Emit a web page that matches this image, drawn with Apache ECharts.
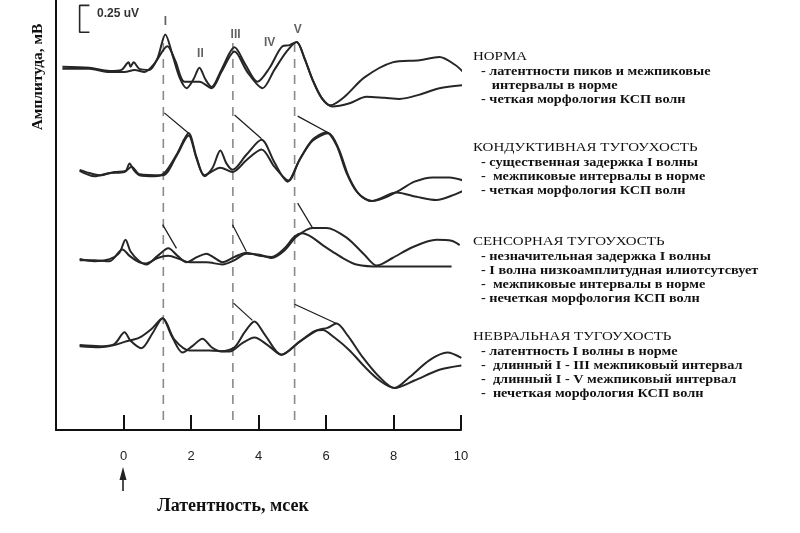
<!DOCTYPE html>
<html><head><meta charset="utf-8">
<script src="https://cdn.jsdelivr.net/npm/echarts@6/dist/echarts.min.js"></script>
<style>html,body{margin:0;background:#fff}#c{width:800px;height:533px}</style>
</head><body><div id="c"></div>
<script>
// ---- data: latency (ms), amplitude relative to row baseline (uV) ----
const xTicks = [0, 2, 4, 6, 8, 10];
const rowBase = [3.37, 2.38, 1.59, 0.79];   // baseline of each row (uV)
const peakLatency = [1.18, 3.24, 5.07];     // dashed reference lines I, III, V
const peakNames = ['I', 'II', 'III', 'IV', 'V'];
const peakLabelPos = [[1.24, 3.80], [2.28, 3.50], [3.32, 3.68], [4.33, 3.60], [5.16, 3.72]];
const scaleBar = 0.25;

const normA = [[-1.81,0.01],[-1.01,0],[-0.41,-0.03],[-0.06,-0.02],[0.15,0.05],[0.21,0.01],[0.30,0.05],[0.47,-0.01],[0.77,-0.02],[1.01,0.09],[1.24,0.31],[1.45,0.12],[1.66,-0.09],[1.87,-0.19],[2.07,-0.11],[2.25,0],[2.43,-0.11],[2.61,-0.18],[2.90,-0.02],[3.29,0.19],[3.61,0.03],[3.97,-0.13],[4.33,0.00],[4.71,0.20],[4.92,0.21],[5.13,0.24],[5.36,0.09],[5.60,-0.11],[5.87,-0.28],[6.13,-0.35],[6.55,-0.27],[7.14,-0.09],[7.97,0.05],[8.77,0.07],[9.36,0.10],[9.81,0.03],[10.10,-0.05]];
const normB = [[-1.81,-0.01],[-1.01,-0.01],[-0.41,-0.04],[0.03,-0.04],[0.33,-0.02],[0.62,-0.04],[0.92,0.04],[1.30,0.20],[1.54,0.06],[1.81,-0.13],[2.25,-0.13],[2.61,-0.19],[2.90,-0.04],[3.29,0.15],[3.67,-0.04],[4.12,-0.19],[4.47,-0.02],[4.83,0.15],[5.13,0.24],[5.36,0.09],[5.60,-0.11],[5.87,-0.28],[6.19,-0.36],[6.70,-0.33],[7.20,-0.27],[7.73,-0.28],[8.18,-0.29],[8.77,-0.25],[9.36,-0.19],[10.10,-0.16]];

const condA = [[-1.30,0.04],[-1.01,0.01],[-0.71,-0.01],[-0.27,0.02],[0.06,0.03],[0.18,0.10],[0.30,0.04],[0.47,-0.01],[0.92,-0.02],[1.21,0.01],[1.57,0.18],[1.93,0.38],[2.16,0.16],[2.40,-0.02],[2.64,0.06],[2.87,0.22],[3.05,0.10],[3.23,0.04],[3.64,0.18],[4.09,0.32],[4.47,0.11],[4.86,-0.07],[5.21,0.13],[5.60,0.32],[6.01,0.39],[6.31,0.27],[6.61,0.01],[6.93,-0.17],[7.35,-0.25],[7.73,-0.22],[8.18,-0.15],[8.62,-0.07],[9.16,-0.03],[9.66,-0.03],[10.16,-0.07]];
const condB = [[-1.30,0.03],[-0.86,-0.02],[-0.41,0.01],[0.03,0.02],[0.24,0.07],[0.47,0],[1.16,-0.01],[1.57,0.17],[1.93,0.36],[2.16,0.15],[2.40,-0.01],[2.87,0.06],[3.23,0.02],[3.64,0.13],[4.09,0.23],[4.47,0.07],[4.89,-0.06],[5.21,0.13],[5.60,0.31],[6.07,0.38],[6.37,0.24],[6.67,-0.02],[6.99,-0.19],[7.35,-0.25],[8.09,-0.17],[8.68,-0.21],[9.27,-0.24],[9.81,-0.19],[10.16,-0.14]];

const sensA = [[-1.30,0],[-0.86,-0.02],[-0.41,0],[-0.12,0.06],[0.06,0.18],[0.21,0.07],[0.47,-0.02],[0.68,-0.05],[1.01,0.03],[1.33,0.10],[1.60,0.03],[1.87,-0.03],[2.19,0.02],[2.46,0.05],[2.70,0.01],[2.93,-0.03],[3.29,0.02],[3.64,0.06],[4.03,0.03],[4.39,0.02],[4.77,0.10],[5.07,0.21],[5.30,0.24],[5.60,0.20],[5.90,0.13],[6.19,0.07],[6.55,0],[6.90,-0.05],[7.59,-0.07],[8.47,-0.07],[9.72,-0.07]];
const sensB = [[-1.30,-0.01],[-0.86,-0.01],[-0.41,-0.02],[-0.03,0.09],[0.18,0.03],[0.47,-0.03],[0.68,-0.04],[1.01,0.01],[1.33,0.03],[1.66,0],[1.96,-0.03],[2.46,-0.03],[2.93,-0.05],[3.29,-0.01],[3.64,0.05],[4.03,0.04],[4.39,0.01],[4.77,0.08],[5.13,0.21],[5.60,0.29],[6.01,0.29],[6.61,0.20],[7.14,0.04],[7.50,-0.06],[7.97,0.01],[8.56,0.11],[9.27,0.18],[9.72,0.17],[9.96,0.13]];

const neurA = [[-1.30,0],[-0.71,-0.01],[-0.27,0.01],[0.03,0.12],[0.21,0.04],[0.53,-0.03],[0.86,0.11],[1.16,0.25],[1.42,0.09],[1.75,-0.07],[2.04,-0.01],[2.34,0.06],[2.61,-0.02],[2.90,-0.06],[3.29,-0.02],[3.59,0.12],[3.88,0.22],[4.18,0.10],[4.68,-0.09],[5.21,0.03],[5.75,0.14],[6.04,0.16],[6.31,0.20],[6.64,0.09],[7.08,-0.11],[7.59,-0.30],[8.03,-0.40],[8.47,-0.30],[9.07,-0.14],[9.60,-0.07],[10.01,-0.12]];
const neurB = [[-1.30,-0.01],[-0.71,-0.02],[-0.27,0],[0.03,0.03],[0.47,0.07],[0.83,0.15],[1.16,0.25],[1.51,0.05],[1.96,-0.05],[2.55,-0.05],[3.14,-0.06],[3.53,0.02],[3.88,0.07],[4.27,0],[4.68,-0.09],[5.21,0.03],[5.66,0.13],[5.90,0.14],[6.25,0.07],[6.70,-0.05],[7.14,-0.20],[7.59,-0.33],[8.03,-0.40],[8.62,-0.33],[9.36,-0.23],[10.01,-0.19]];

// thin pointer lines from the reference latency to the shifted peak, per row
const condPointers = [[[1.21,0.57],[1.93,0.38]], [[3.29,0.55],[4.09,0.33]], [[5.16,0.54],[6.04,0.39]]];
const sensPointers = [[[1.16,0.32],[1.57,0.10]], [[3.23,0.32],[3.64,0.07]], [[5.16,0.52],[5.60,0.29]]];
const neurPointers = [[[3.26,0.39],[3.82,0.23]], [[5.07,0.38],[6.31,0.20]]];

const notes = [
  ['НОРМА', '- латентности пиков и межпиковые', '   интервалы в норме', '- четкая морфология КСП волн'],
  ['КОНДУКТИВНАЯ ТУГОУХОСТЬ', '- существенная задержка I волны', '-  межпиковые интервалы в норме', '- четкая морфология КСП волн'],
  ['СЕНСОРНАЯ ТУГОУХОСТЬ', '- незначительная задержка I волны', '- I волна низкоамплитудная илиотсутсвует', '-  межпиковые интервалы в норме', '- нечеткая морфология КСП волн'],
  ['НЕВРАЛЬНАЯ ТУГОУХОСТЬ', '- латентность I волны в норме', '-  длинный I - III межпиковый интервал', '-  длинный I - V межпиковый интервал', '-  нечеткая морфология КСП волн']
];
const yName = 'Амплитуда, мВ';
const xName = 'Латентность, мсек';
const scaleText = '0.25 uV';

// ---- build ----
const ink = '#262626';
const series = [];
function wave(pts, base) {
  series.push({type: 'line', data: pts.map(p => [p[0], +(base + p[1]).toFixed(3)]), smooth: 0.3,
    symbol: 'none', clip: false, silent: true, z: 3, lineStyle: {color: ink, width: 2}});
}
wave(normA, rowBase[0]); wave(normB, rowBase[0]);
wave(condA, rowBase[1]); wave(condB, rowBase[1]);
wave(sensA, rowBase[2]); wave(sensB, rowBase[2]);
wave(neurA, rowBase[3]); wave(neurB, rowBase[3]);
function pointers(list, base) {
  list.forEach(seg => series.push({type: 'line', data: seg.map(p => [p[0], base + p[1]]), symbol: 'none',
    silent: true, z: 3, lineStyle: {color: '#1a1a1a', width: 1.2}}));
}
pointers(condPointers, rowBase[1]);
pointers(sensPointers, rowBase[2]);
pointers(neurPointers, rowBase[3]);
peakLatency.forEach(t => series.push({type: 'line', data: [[t, 3.6], [t, 0.09]], symbol: 'none', silent: true, z: 1,
  lineStyle: {color: '#8a8a8a', width: 1.6, type: [9, 7]}}));
// scale bar
series.push({type: 'line', data: [[-1.01, 3.95], [-1.30, 3.95], [-1.30, 3.95 - scaleBar], [-1.01, 3.95 - scaleBar]],
  symbol: 'none', silent: true, lineStyle: {color: ink, width: 1.6}});
// peak labels
series.push({type: 'scatter', symbolSize: 0, silent: true,
  data: peakNames.map((n, i) => ({name: n, value: peakLabelPos[i]})),
  label: {show: true, position: 'inside', formatter: '{b}', color: '#3a3a3a', fontSize: 12, fontWeight: 'bold',
    fontFamily: 'Liberation Sans, Arial, sans-serif'}});

const graphic = [];
graphic.push({type: 'text', left: 97, top: 8, style: {text: scaleText, font: 'bold 12px Liberation Sans, Arial', fill: '#333'}});
graphic.push({type: 'text', x: 38, y: 77, rotation: Math.PI / 2,
  style: {text: yName, font: 'bold 15.5px Liberation Serif, Times New Roman, serif', fill: '#111', align: 'center', verticalAlign: 'middle'}});
graphic.push({type: 'text', x: 233, y: 506,
  style: {text: xName, font: 'bold 18px Liberation Serif, Times New Roman, serif', fill: '#111', align: 'center', verticalAlign: 'middle'}});
graphic.push({type: 'line', shape: {x1: 123, y1: 491, x2: 123, y2: 474}, style: {stroke: '#222', lineWidth: 1.6}});
graphic.push({type: 'polygon', shape: {points: [[119.5, 480], [123, 467], [126.5, 480]]}, style: {fill: '#222'}});
const blockTop = [57, 148, 242, 337];
notes.forEach((blk, b) => {
  blk.forEach((txt, i) => {
    graphic.push({type: 'text', x: i === 0 ? 473 : 481, y: i === 0 ? blockTop[b] : blockTop[b] + 15 + (i - 1) * 14,
      scaleX: i === 0 ? 1.15 : 1.19,
      style: {text: txt, fill: '#111', verticalAlign: 'middle',
        font: i === 0 ? '13px Liberation Serif, Times New Roman, serif' : 'bold 12px Liberation Serif, Times New Roman, serif'}});
  });
});

const chart = echarts.init(document.getElementById('c'), null, {renderer: 'canvas'});
chart.setOption({
  animation: false,
  backgroundColor: '#fff',
  grid: {left: 56, right: 339, top: 0, bottom: 103},
  xAxis: {type: 'value', min: -2, max: 10, interval: 2,
    axisLine: {onZero: false, lineStyle: {color: '#111', width: 2}},
    axisTick: {inside: true, length: 15, lineStyle: {color: '#111', width: 2}},
    axisLabel: {margin: 20, fontSize: 13, color: '#222', fontFamily: 'Liberation Sans, Arial',
      formatter: v => (xTicks.indexOf(v) >= 0 ? String(v) : '')},
    splitLine: {show: false}},
  yAxis: {type: 'value', min: 0, max: 4, axisLine: {show: true, onZero: false, lineStyle: {color: '#111', width: 2}},
    axisTick: {show: false}, axisLabel: {show: false}, splitLine: {show: false}},
  series: series,
  graphic: graphic
});
</script></body></html>
